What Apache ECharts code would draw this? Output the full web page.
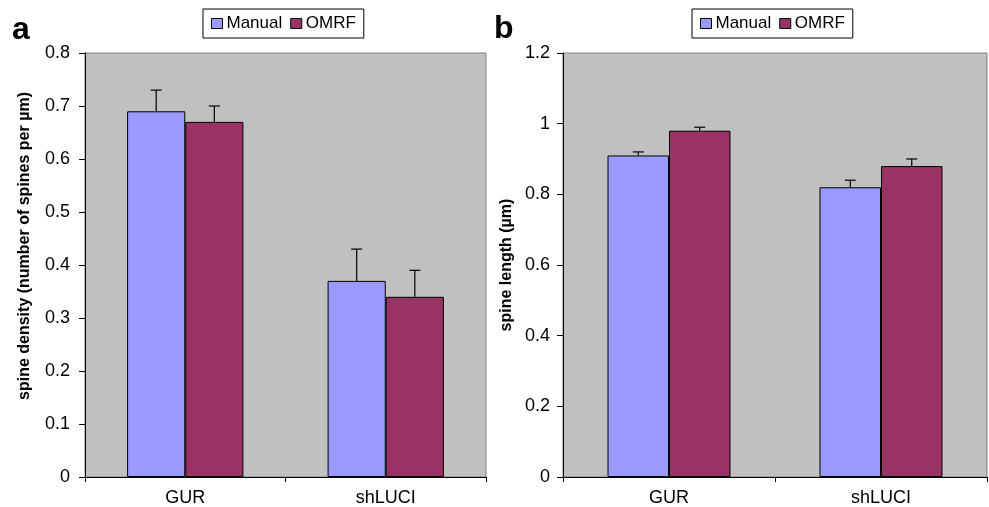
<!DOCTYPE html>
<html>
<head>
    <meta charset="utf-8">
    <title>spine density / spine length</title>
    <script src="https://cdn.jsdelivr.net/npm/echarts@6/dist/echarts.min.js"></script>
    <style>
        html, body { margin: 0; padding: 0; background: #fff; }
        #chart { width: 989px; height: 507px; }
    </style>
</head>
<body>
<div id="chart"></div>
<script type="text/javascript">
    // 数据
    var categories = ['GUR', 'shLUCI'];
    var seriesNames = ['Manual', 'OMRF'];

    var densityManual = [0.69, 0.37];
    var densityManualErr = [0.73, 0.43];   // top of error bar
    var densityOmrf = [0.67, 0.34];
    var densityOmrfErr = [0.70, 0.39];

    var lengthManual = [0.91, 0.82];
    var lengthManualErr = [0.92, 0.84];
    var lengthOmrf = [0.98, 0.88];
    var lengthOmrfErr = [0.99, 0.90];

    var colors = ['#9999ff', '#993366'];
    var font = 'Arial, "Liberation Sans", sans-serif';
    var gapPct = 42;

    // error bar: side -1 = left bar of pair, +1 = right bar
    function errRender(side) {
        return function (params, api) {
            var x = api.value(0);
            var base = api.coord([x, api.value(1)]);
            var top = api.coord([x, api.value(2)]);
            var catW = api.size([1, 0])[0];
            var barW = catW * (1 - gapPct / 100) / 2;
            var cx = base[0] + side * barW / 2;
            var style = {stroke: '#000', lineWidth: 1.2};
            return {
                type: 'group',
                children: [
                    {type: 'line', shape: {x1: cx, y1: base[1], x2: cx, y2: top[1]}, style: style},
                    {type: 'line', shape: {x1: cx - 5.5, y1: top[1], x2: cx + 5.5, y2: top[1]}, style: style}
                ]
            };
        };
    }

    function pack(vals, errs) {
        return vals.map(function (v, i) { return [i, v, errs[i]]; });
    }

    function xAxis(gi) {
        return {
            type: 'category', gridIndex: gi, data: categories,
            axisLine: {lineStyle: {color: '#000', width: 1}},
            axisTick: {show: true, length: 5, lineStyle: {color: '#000'}},
            axisLabel: {color: '#000', fontSize: 18, fontFamily: font, margin: 12}
        };
    }

    function yAxis(gi, max, step, name, gap, lblGap, namePad) {
        return {
            type: 'value', gridIndex: gi, min: 0, max: max, interval: step,
            name: name, nameLocation: 'middle', nameGap: gap,
            nameTextStyle: {color: '#000', fontSize: 16, fontWeight: 'bold', fontFamily: font, padding: namePad},
            axisLine: {show: true, lineStyle: {color: '#000', width: 1}},
            axisTick: {show: true, length: 6, lineStyle: {color: '#000'}},
            axisLabel: {color: '#000', fontSize: 18, fontFamily: font, margin: lblGap},
            splitLine: {show: false}
        };
    }

    function bar(name, gi, data, ci) {
        return {
            name: name, type: 'bar', xAxisIndex: gi, yAxisIndex: gi, data: data,
            barGap: 0, barCategoryGap: gapPct + '%',
            itemStyle: {color: colors[ci], borderColor: '#000', borderWidth: 1},
            emphasis: {disabled: true}
        };
    }

    function err(gi, data, side) {
        return {
            type: 'custom', xAxisIndex: gi, yAxisIndex: gi, data: data,
            renderItem: errRender(side), z: 3, silent: true
        };
    }

    function legend(left) {
        return {
            data: seriesNames, left: left, top: 9,
            orient: 'horizontal', icon: 'rect', itemWidth: 11, itemHeight: 10, itemGap: 8,
            padding: [6, 8], borderColor: '#000', borderWidth: 1, backgroundColor: '#fff',
            textStyle: {color: '#000', fontSize: 17, fontFamily: font, padding: [0, 0, 0, -1]},
            itemStyle: {borderColor: '#000', borderWidth: 1}
        };
    }

    var myChart = echarts.init(document.getElementById('chart'));
    myChart.setOption({
        animation: false,
        backgroundColor: '#fff',
        legend: [legend(203), legend(692)],
        graphic: [
            {type: 'text', left: 12, top: 14, style: {text: 'a', fontSize: 32, fontWeight: 'bold', fontFamily: font, fill: '#000'}},
            {type: 'text', left: 494, top: 13, style: {text: 'b', fontSize: 32, fontWeight: 'bold', fontFamily: font, fill: '#000'}}
        ],
        grid: [
            {left: 85, right: 503, top: 53, bottom: 30, show: true, backgroundColor: '#c0c0c0', borderColor: '#808080', borderWidth: 1},
            {left: 563, right: 2, top: 53, bottom: 30, show: true, backgroundColor: '#c0c0c0', borderColor: '#808080', borderWidth: 1}
        ],
        xAxis: [xAxis(0), xAxis(1)],
        yAxis: [
            yAxis(0, 0.8, 0.1, 'spine density (number of spines per µm)', 52, 15, [0, 0, 0, 38]),
            yAxis(1, 1.2, 0.2, 'spine length (µm)', 48, 13, 0)
        ],
        series: [
            bar('Manual', 0, densityManual, 0),
            bar('OMRF', 0, densityOmrf, 1),
            err(0, pack(densityManual, densityManualErr), -1),
            err(0, pack(densityOmrf, densityOmrfErr), 1),
            bar('Manual', 1, lengthManual, 0),
            bar('OMRF', 1, lengthOmrf, 1),
            err(1, pack(lengthManual, lengthManualErr), -1),
            err(1, pack(lengthOmrf, lengthOmrfErr), 1)
        ]
    });
</script>
</body>
</html>
